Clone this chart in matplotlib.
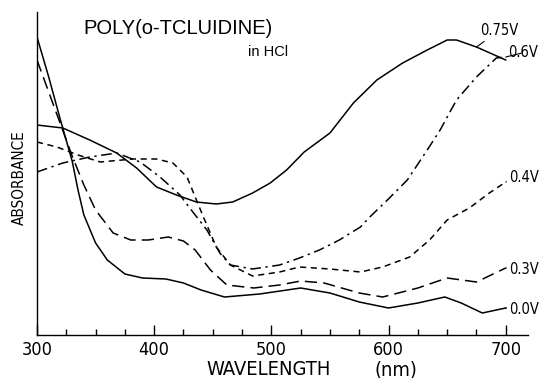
import matplotlib
matplotlib.use("Agg")
import matplotlib.pyplot as plt
from matplotlib.ticker import MultipleLocator
from matplotlib import font_manager

plt.rcParams['font.family'] = ['Liberation Sans', 'DejaVu Sans']

# Use a condensed face when one is available
have_cond = any('ondensed' in f.fname for f in font_manager.fontManager.ttflist)
if have_cond:
    cond = dict(family='DejaVu Sans', fontstretch='condensed')
else:
    cond = dict(family='Liberation Sans')

# Data (absorbance, arbitrary units)
wl_00 = [300, 310, 320, 330, 335, 340, 350, 360, 375, 390, 410, 425, 440, 460, 490, 525, 550, 575, 600, 625, 648, 662, 680, 700]
abs_00 = [2.98, 2.58, 2.15, 1.74, 1.45, 1.20, 0.92, 0.75, 0.61, 0.57, 0.56, 0.52, 0.45, 0.38, 0.41, 0.47, 0.42, 0.33, 0.27, 0.32, 0.38, 0.32, 0.22, 0.27]

wl_03 = [300, 310, 320, 330, 340, 350, 365, 380, 395, 412, 425, 435, 448, 462, 485, 507, 525, 545, 575, 595, 625, 650, 675, 700]
abs_03 = [2.75, 2.43, 2.11, 1.79, 1.50, 1.25, 1.02, 0.95, 0.95, 0.98, 0.94, 0.85, 0.65, 0.50, 0.47, 0.50, 0.54, 0.52, 0.42, 0.38, 0.47, 0.57, 0.53, 0.67]

wl_04 = [300, 317, 335, 354, 382, 402, 416, 428, 442, 453, 465, 484, 507, 524, 550, 576, 595, 618, 635, 650, 669, 686, 700]
abs_04 = [1.93, 1.88, 1.80, 1.73, 1.76, 1.76, 1.72, 1.58, 1.18, 0.88, 0.70, 0.59, 0.63, 0.68, 0.66, 0.63, 0.68, 0.78, 0.95, 1.15, 1.27, 1.42, 1.53]

wl_06 = [300, 322, 345, 368, 388, 405, 422, 433, 445, 456, 465, 484, 507, 524, 541, 558, 576, 584, 599, 616, 633, 644, 658, 675, 692, 700]
abs_06 = [1.63, 1.72, 1.78, 1.82, 1.73, 1.58, 1.40, 1.23, 1.05, 0.82, 0.70, 0.66, 0.70, 0.77, 0.85, 0.95, 1.08, 1.18, 1.35, 1.55, 1.85, 2.05, 2.35, 2.58, 2.77, 2.78]

wl_075 = [300, 322, 345, 368, 385, 402, 419, 436, 453, 467, 484, 499, 513, 528, 550, 570, 590, 612, 633, 650, 658, 675, 700]
abs_075 = [2.10, 2.07, 1.95, 1.82, 1.67, 1.48, 1.40, 1.33, 1.31, 1.33, 1.42, 1.52, 1.65, 1.83, 2.02, 2.32, 2.55, 2.72, 2.85, 2.95, 2.95, 2.88, 2.75]

labels = ["0.0V", "0.3V", "0.4V", "0.6V", "0.75V"]
title_text = "POLY(o-TCLUIDINE)"
subtitle_text = "in HCl"
x_ticks = [300, 400, 500, 600, 700]

fig = plt.figure(figsize=(5.4, 3.78), dpi=100)
ax = fig.add_axes([37/540, 1-335/378, 491/540, 323/378])

lw = 1.1
ax.plot(wl_00, abs_00, color='black', lw=lw, linestyle='-')
ax.plot(wl_03, abs_03, color='black', lw=lw, linestyle=(0, (8, 4)))
ax.plot(wl_04, abs_04, color='black', lw=lw, linestyle=(0, (4, 3)))
ax.plot(wl_06, abs_06, color='black', lw=lw, linestyle=(0, (7, 3, 1.5, 3)))
ax.plot(wl_075, abs_075, color='black', lw=lw, linestyle='-')

ax.set_xlim(300, 719)
ax.set_ylim(0, 3.23)
ax.spines['top'].set_visible(False)
ax.spines['right'].set_visible(False)
ax.spines['left'].set_linewidth(1.0)
ax.spines['bottom'].set_linewidth(1.0)
ax.set_yticks([])
ax.set_xticks(x_ticks)
ax.set_xticklabels([str(t) for t in x_ticks], fontsize=13, **cond)
ax.xaxis.set_minor_locator(MultipleLocator(25))
ax.tick_params(axis='x', which='major', direction='in', length=7, width=1.0, pad=4)
ax.tick_params(axis='x', which='minor', direction='in', length=4, width=1.0)

ax.set_ylabel("ABSORBANCE", fontsize=11, va='center', **cond)
ax.yaxis.set_label_coords(-0.035, 0.486)
ax.set_xlabel("WAVELENGTH", fontsize=14.5, va='center', **cond)
ax.xaxis.set_label_coords(0.4725, -0.108)
ax.text(0.731, -0.108, "(nm)", transform=ax.transAxes, fontsize=14.5, ha='center', va='center', **cond)

ax.text(0.094, 0.950, title_text, transform=ax.transAxes, fontsize=14.5,
        ha='left', va='center')
ax.text(0.43, 0.876, subtitle_text, transform=ax.transAxes, fontsize=10.5,
        ha='left', va='center')

ap = dict(arrowstyle='-', lw=0.8, color='black', shrinkA=1, shrinkB=0)
lab_kw = dict(fontsize=10.5, **cond)
ax.annotate(labels[4], xy=(wl_075[-2], abs_075[-2]), xytext=(3, 12), textcoords='offset points',
            ha='left', va='center', arrowprops=ap, **lab_kw)
ax.annotate(labels[3], xy=(wl_06[-1], abs_06[-1]), xytext=(1.5, 3), textcoords='offset points',
            ha='left', va='center', arrowprops=ap, **lab_kw)
ax.annotate(labels[2], xy=(wl_04[-1], abs_04[-1]), xytext=(2.5, 3), textcoords='offset points',
            ha='left', va='center', arrowprops=ap, **lab_kw)
ax.annotate(labels[1], xy=(wl_03[-1], abs_03[-1]), xytext=(2.5, -1), textcoords='offset points',
            ha='left', va='center', arrowprops=ap, **lab_kw)
ax.annotate(labels[0], xy=(wl_00[-1], abs_00[-1]), xytext=(2.5, -1), textcoords='offset points',
            ha='left', va='center', arrowprops=ap, **lab_kw)

fig.savefig("out.png", dpi=100)
